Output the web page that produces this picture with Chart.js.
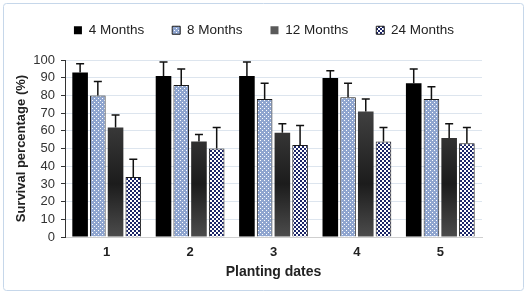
<!DOCTYPE html>
<html>
<head>
<meta charset="utf-8">
<script src="https://cdn.jsdelivr.net/npm/chart.js@4"></script>
<style>
  html, body { margin: 0; padding: 0; background: #fff; }
  #wrap { width: 528px; height: 293px; position: relative; }
</style>
</head>
<body>
<div id="wrap"><canvas id="chart" width="528" height="293"></canvas></div>
<script>
'use strict';

const dates = ['1', '2', '3', '4', '5'];
const seriesNames = ['4 Months', '8 Months', '12 Months', '24 Months'];
const m4  = [93, 91, 91, 90, 87];
const m8  = [80, 86, 78, 79, 78];
const m12 = [62, 54, 59, 71, 56];
const m24 = [34, 50, 52, 54, 53];
// upper error bars only
const e4  = [5, 8, 8, 4, 8];
const e8  = [8, 9, 9, 8, 7];
const e12 = [7, 4, 5, 7, 8];
const e24 = [10, 12, 11, 8, 9];
const yTicks = [0, 10, 20, 30, 40, 50, 60, 70, 80, 90, 100];

const FONT = '"Liberation Sans", Arial, sans-serif';

function tile(draw) {
  const c = document.createElement('canvas');
  c.width = 4; c.height = 4;
  draw(c.getContext('2d'));
  return c.getContext('2d').createPattern(c, 'repeat');
}

const dotted = tile(g => {
  g.fillStyle = '#8fa5cf';
  g.fillRect(0, 0, 4, 4);
  g.fillStyle = '#ffffff';
  g.fillRect(0, 0, 1, 1);
  g.fillRect(2, 2, 1, 1);
});

const checker = tile(g => {
  g.fillStyle = '#ffffff';
  g.fillRect(0, 0, 4, 4);
  g.fillStyle = '#1b2568';
  g.fillRect(0, 0, 2, 2);
  g.fillRect(2, 2, 2, 2);
});

function darkGradient(ctx) {
  const a = ctx.chart.chartArea;
  if (!a) return '#3a3a3a';
  const g = ctx.chart.ctx.createLinearGradient(0, a.top, 0, a.bottom);
  g.addColorStop(0, '#5a5a5a');
  g.addColorStop(0.7, '#1c1c1c');
  g.addColorStop(1, '#4c4c4c');
  return g;
}

const errors = [e4, e8, e12, e24];

const errorBars = {
  id: 'errorBars',
  afterDatasetsDraw(chart) {
    const c = chart.ctx;
    const y = chart.scales.y;
    c.save();
    c.strokeStyle = '#111';
    c.lineWidth = 1.5;
    chart.data.datasets.forEach((ds, i) => {
      const meta = chart.getDatasetMeta(i);
      meta.data.forEach((bar, j) => {
        const top = y.getPixelForValue(ds.data[j] + errors[i][j]);
        c.beginPath();
        c.moveTo(bar.x, bar.y);
        c.lineTo(bar.x, top);
        c.moveTo(bar.x - 4, top);
        c.lineTo(bar.x + 4, top);
        c.stroke();
      });
    });
    c.restore();
  }
};

const frame = {
  id: 'frame',
  beforeDraw(chart) {
    const c = chart.ctx;
    c.save();
    c.fillStyle = '#fff';
    c.fillRect(0, 0, chart.width, chart.height);
    c.strokeStyle = '#c6d7ea';
    c.lineWidth = 1;
    c.beginPath();
    c.roundRect(3.5, 3.5, 520, 287, 3);
    c.stroke();
    c.restore();
  }
};

new Chart(document.getElementById('chart'), {
  type: 'bar',
  data: {
    labels: dates,
    datasets: [
      { label: seriesNames[0], data: m4,  backgroundColor: '#000000', borderWidth: 0 },
      { label: seriesNames[1], data: m8,  backgroundColor: dotted, borderColor: '#1a1a1a', borderWidth: 1 },
      { label: seriesNames[2], data: m12, backgroundColor: darkGradient, borderWidth: 0 },
      { label: seriesNames[3], data: m24, backgroundColor: checker, borderColor: '#1a1a1a', borderWidth: 1 }
    ]
  },
  options: {
    responsive: false,
    animation: false,
    layout: { padding: { top: -4.5, left: 0, right: 0, bottom: 0 } },
    datasets: { bar: { categoryPercentage: 0.85, barPercentage: 0.88 } },
    plugins: {
      legend: {
        position: 'top',
        labels: {
          boxWidth: 8, boxHeight: 8, padding: 28,
          color: '#222', font: { family: FONT, size: 13.5 }
        }
      },
      title: {
        display: true, text: ' ', weight: 500,
        font: { size: 1 }, padding: { top: 0, bottom: 12 }
      },
      tooltip: { enabled: false }
    },
    scales: {
      x: {
        grid: { display: false, drawTicks: false },
        border: { color: '#cfcfcf', width: 1 },
        ticks: { color: '#222', padding: 8, font: { family: FONT, size: 13, weight: 'bold' } },
        title: {
          display: true, text: 'Planting dates', color: '#222',
          font: { family: FONT, size: 14, weight: 'bold' }, padding: { top: 0, bottom: 12 }
        },
        afterFit: s => { s.height = 56; }
      },
      y: {
        min: 0, max: 100,
        afterBuildTicks: s => { s.ticks = yTicks.map(v => ({ value: v })); },
        grid: { color: '#dde5ee', tickColor: '#333', tickLength: 4 },
        border: { color: '#333', width: 1 },
        ticks: { color: '#333', padding: 6, autoSkip: false, font: { family: FONT, size: 13 } },
        title: {
          display: true, text: 'Survival percentage (%)', color: '#222',
          font: { family: FONT, size: 13, weight: 'bold' }, padding: { top: 14, bottom: 0 }
        },
        afterFit: s => { s.width = 65; }
      },
      yRight: {
        position: 'right', display: true,
        grid: { display: false }, border: { display: false },
        ticks: { display: false },
        afterFit: s => { s.width = 46; }
      }
    }
  },
  plugins: [frame, errorBars]
});
</script>
</body>
</html>
